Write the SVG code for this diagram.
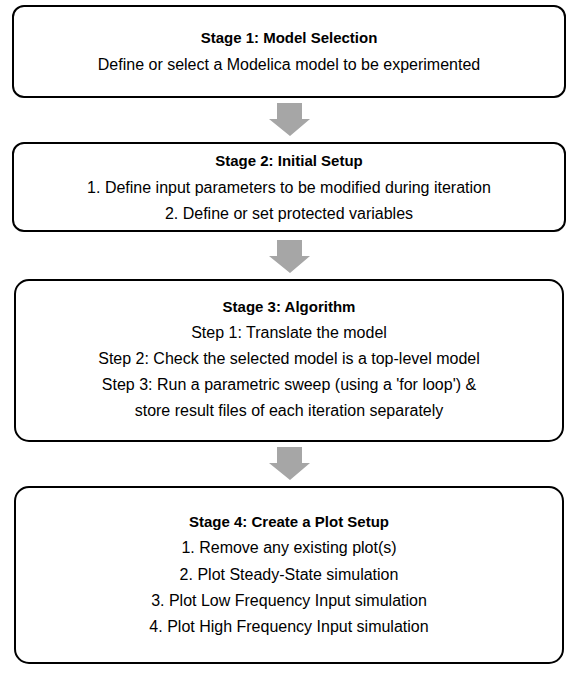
<svg xmlns="http://www.w3.org/2000/svg" width="577" height="676" viewBox="0 0 577 676">
<style>
.box{fill:#fff;stroke:#000;stroke-width:2}
text{font-family:"Liberation Sans",Arial,sans-serif;font-size:16px;fill:#000;text-anchor:middle}
.t{font-weight:bold;font-size:15px}
.arr{fill:#a6a6a6}
</style>
<rect width="577" height="676" fill="#fff"/>
<g id="connectors">
<path class="arr" d="M277,103 H302 V119 H310 L290,136 L269,119 H277 Z"/>
<path class="arr" d="M277,240 H302 V256 H310 L290,273 L269,256 H277 Z"/>
<path class="arr" d="M277,447 H302 V463 H310 L290,480 L269,463 H277 Z"/>
</g>
<g id="stage1">
<rect class="box" x="13" y="6" width="552" height="91" rx="11"/>
<text class="t" x="289" y="43">Stage 1: Model Selection</text>
<text x="289" y="70">Define or select a Modelica model to be experimented</text>
</g>
<g id="stage2">
<rect class="box" x="13" y="143" width="552" height="88" rx="11"/>
<text class="t" x="289" y="166">Stage 2: Initial Setup</text>
<text x="289" y="193">1. Define input parameters to be modified during iteration</text>
<text x="289" y="219">2. Define or set protected variables</text>
</g>
<g id="stage3">
<rect class="box" x="15" y="280" width="548" height="161" rx="14"/>
<text class="t" x="289" y="312">Stage 3: Algorithm</text>
<text x="289" y="338">Step 1: Translate the model</text>
<text x="289" y="364">Step 2: Check the selected model is a top-level model</text>
<text x="289" y="390">Step 3: Run a parametric sweep (using a 'for loop') &amp;</text>
<text x="289" y="416">store result files of each iteration separately</text>
</g>
<g id="stage4">
<rect class="box" x="15" y="487" width="548" height="176" rx="14"/>
<text class="t" x="289" y="527">Stage 4: Create a Plot Setup</text>
<text x="289" y="553">1. Remove any existing plot(s)</text>
<text x="289" y="580">2. Plot Steady-State simulation</text>
<text x="289" y="606">3. Plot Low Frequency Input simulation</text>
<text x="289" y="632">4. Plot High Frequency Input simulation</text>
</g>
</svg>
